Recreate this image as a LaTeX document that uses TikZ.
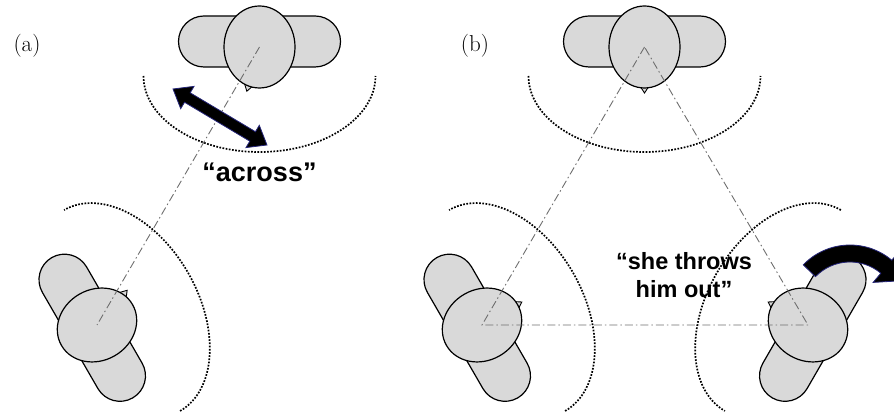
\documentclass[tikz,border=0pt]{standalone}
\usepackage{fontspec}
\newfontfamily\quotefont{Liberation Sans}
\definecolor{bodygray}{HTML}{D9D9D9}
\definecolor{gazegray}{HTML}{6E6E6E}
\definecolor{arrowblue}{HTML}{26267A}
\tikzset{
  body/.style={draw=black, line width=1.2pt, fill=bodygray},
  gaze/.style={draw=gazegray, line width=0.9pt, dash pattern=on 8pt off 3pt on 1.5pt off 3pt},
  reach/.style={draw=black, line width=1.7pt, dash pattern=on 1.7pt off 1.5pt},
  blockarrow/.style={fill=black, draw=arrowblue, line width=0.8pt},
  quote/.style={font=\quotefont\bfseries},
  panel/.style={font=\fontsize{23}{26}\selectfont},
  % a person seen from above: reach arc, shoulders, nose, head
  pics/person/.style={code={
    \path[reach] (-116,-29) arc[start angle=180, end angle=360, x radius=116, y radius=76];
    \path[body, rounded corners=25.5pt] (-81,-20) rectangle (81,31);
    \begin{scope}[rotate=#1+90]
      \path[body, line width=0.9pt] (-6.5,-36) -- (6.5,-36) -- (0,-46) -- cycle;
    \end{scope}
    \path[body] (0,0) ellipse[x radius=35.5, y radius=41];
  }}
}
\begin{document}
\begin{tikzpicture}[x=1pt, y=1pt]
  \useasboundingbox (0,0) rectangle (894,417);
  \clip (0,0) rectangle (894,417);

  % person positions
  \coordinate (a1) at (259.5,370);
  \coordinate (a2) at (97,92);
  \coordinate (b1) at (644.5,370);
  \coordinate (b2) at (482,92);
  \coordinate (b3) at (808,92);

  % panel (a)
  \pic at (a1) {person=-106};
  \pic[rotate=120] at (a2) {person=-71};
  \draw[gaze] (a1) -- (a2);

  % panel (b)
  \pic at (b1) {person=-90};
  \pic[rotate=120] at (b2) {person=-90};
  \pic[rotate=240] at (b3) {person=-90};
  \draw[gaze] (b1) -- (b2) -- (b3) -- cycle;

  % double arrow across the circle
  \begin{scope}[shift={(220,300)}, rotate=-30.8]
    \path[blockarrow] (-54.7,0) -- (-38,13) -- (-38,5.5) -- (38,5.5) -- (38,13)
      -- (54.7,0) -- (38,-13) -- (38,-5.5) -- (-38,-5.5) -- (-38,-13) -- cycle;
  \end{scope}

  % curved arrow turning away
  \begin{scope}[shift={(850,107)}]
    \path[blockarrow] (136:65) arc[start angle=136, end angle=50, radius=65]
      -- (50:76) -- (29:60.5) -- (50:36) -- (50:48)
      arc[start angle=50, end angle=136, radius=48] -- cycle;
  \end{scope}

  % labels
  \node[panel] (la) at (27,371) {(a)};
  \node[panel] (lb) at (475,371) {(b)};
  \node[quote, font=\quotefont\bfseries\fontsize{27}{30}\selectfont, anchor=base] (across) at (259.5,235) {“across”};
  \node[quote, font=\quotefont\bfseries\fontsize{23.5}{28}\selectfont, align=center] (throws) at (684,141.5) {“she throws\\him out”};
\end{tikzpicture}
\end{document}
